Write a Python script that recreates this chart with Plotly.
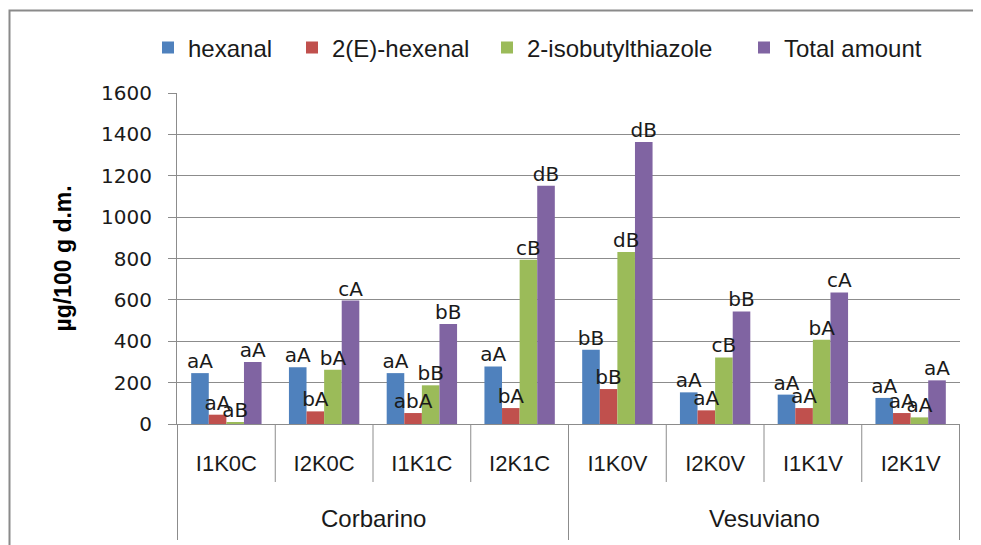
import plotly.graph_objects as go

categories = ["I1K0C", "I2K0C", "I1K1C", "I2K1C", "I1K0V", "I2K0V", "I1K1V", "I2K1V"]
groups = ["Corbarino", "Vesuviano"]
group_centers = [1.5, 5.5]

hexanal = [246, 274, 246, 278, 359, 153, 142, 126]
hexenal = [45, 61, 53, 77, 169, 66, 77, 53]
thiazole = [8, 262, 187, 794, 831, 322, 407, 32]
total = [300, 597, 483, 1152, 1363, 544, 636, 211]

hexanal_lbl = ["aA", "aA", "aA", "aA", "bB", "aA", "aA", "aA"]
hexenal_lbl = ["aA", "bA", "abA", "bA", "bB", "aA", "aA", "aA"]
thiazole_lbl = ["aB", "bA", "bB", "cB", "dB", "cB", "bA", "aA"]
total_lbl = ["aA", "cA", "bB", "dB", "dB", "bB", "cA", "aA"]

series = [
    ("hexanal", hexanal, hexanal_lbl, "#4F81BD"),
    ("2(E)-hexenal", hexenal, hexenal_lbl, "#C0504D"),
    ("2-isobutylthiazole", thiazole, thiazole_lbl, "#9BBB59"),
    ("Total amount", total, total_lbl, "#8064A2"),
]
legend_left = [148, 292, 487, 744]  # reference px of each legend entry

# page body has an 8px margin: figure pixel = reference pixel - 8
OFF = 8
W, H = 981 - OFF, 545 - OFF
ML, MR, MT, MB = 177 - OFF, 21, 93 - OFF, 121
PW = W - ML - MR
PH = H - MT - MB
GRID = "#8c8c8c"
GAP = 0.28

def py(ref_px_from_top):
    return (H - MB - (ref_px_from_top - OFF)) / PH

def px_(ref_px_from_left):
    return ((ref_px_from_left - OFF) - ML) / PW

fig = go.Figure()
legend_names = ["legend", "legend2", "legend3", "legend4"]
for i, (name, vals, lbls, col) in enumerate(series):
    fig.add_trace(go.Bar(
        x=categories, y=vals, name=name, legend=legend_names[i],
        marker=dict(color=col, line=dict(width=0)),
        offsetgroup=str(i),
    ))
for i, (name, vals, lbls, col) in enumerate(series):
    fig.add_trace(go.Scatter(
        x=categories, y=vals, mode="text", text=lbls, textposition="top center",
        offsetgroup=str(i), alignmentgroup="lbl", showlegend=False, cliponaxis=False,
        hoverinfo="skip",
        textfont=dict(family="DejaVu Sans", size=20, color="#1a1a1a"),
    ))

shapes = []
for b in [0.5, 1.5, 2.5, 4.5, 5.5, 6.5]:
    shapes.append(dict(type="line", xref="x", yref="paper", x0=b, x1=b,
                       y0=0, y1=py(482), line=dict(color=GRID, width=1)))
for b in [-0.5, 3.5, 7.5]:
    shapes.append(dict(type="line", xref="x", yref="paper", x0=b, x1=b,
                       y0=0, y1=py(540), line=dict(color=GRID, width=1)))
shapes.append(dict(type="rect", xref="paper", yref="paper",
                   x0=px_(9.5), x1=px_(1000), y0=py(560), y1=py(10.5),
                   line=dict(color="#8a8a8a", width=2), fillcolor="rgba(0,0,0,0)"))

annotations = []
for g, c in zip(groups, group_centers):
    annotations.append(dict(text=g, xref="x", yref="paper", x=c, y=py(518),
                            showarrow=False, yanchor="middle",
                            font=dict(family="Liberation Sans", size=24, color="#1a1a1a")))
annotations.append(dict(text="<b>µg/100 g d.m.</b>", xref="paper", yref="paper",
                        x=px_(62), y=0.5, textangle=-90, showarrow=False,
                        xanchor="center", yanchor="middle",
                        font=dict(family="Liberation Sans", size=23, color="#000")))

legend_style = dict(orientation="h", xanchor="left", y=py(48), yanchor="middle",
                    font=dict(family="Liberation Sans", size=24, color="#1a1a1a"),
                    bgcolor="rgba(0,0,0,0)")
legends = {}
for ln, lx in zip(legend_names, legend_left):
    legends[ln] = dict(legend_style, x=px_(lx))

fig.update_layout(
    width=W, height=H,
    margin=dict(l=ML, r=MR, t=MT, b=MB, autoexpand=False),
    paper_bgcolor="white", plot_bgcolor="white",
    barmode="group", bargap=GAP, bargroupgap=0,
    scattermode="group", scattergap=GAP,
    showlegend=True,
    shapes=shapes, annotations=annotations,
    xaxis=dict(type="category", showline=True, linecolor=GRID, linewidth=1,
               ticks="", showgrid=False,
               tickfont=dict(family="Liberation Sans", size=22, color="#1a1a1a"),
               ticklabelstandoff=20),
    yaxis=dict(range=[0, 1600], dtick=200, showgrid=True, gridcolor=GRID, gridwidth=1,
               showline=True, linecolor=GRID, linewidth=1,
               ticks="outside", ticklen=8, tickcolor=GRID,
               ticklabelstandoff=12, zeroline=False,
               tickfont=dict(family="DejaVu Sans", size=20, color="#1a1a1a")),
    **legends,
)

fig.write_html("out.html")
